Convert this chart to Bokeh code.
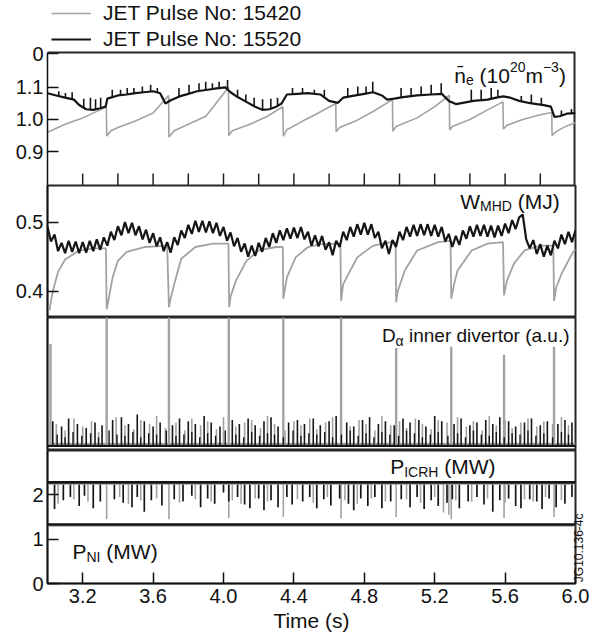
import math
import numpy as np
from bokeh.plotting import figure
from bokeh.models import (Range1d, FixedTicker, Legend, LegendItem, Label, PrintfTickFormatter,
                          Span, LinearAxis)
from bokeh.layouts import column
from bokeh.embed import file_html
from bokeh.resources import INLINE

# ------------------------------------------------------------------ data
x_ticks = [3.2, 3.6, 4.0, 4.4, 4.8, 5.2, 5.6, 6.0]
x_minor_ticks = [3.2, 3.4, 3.6, 3.8, 4.0, 4.2, 4.4, 4.6, 4.8, 5.0, 5.2, 5.4, 5.6, 5.8]
ne_ticks = [0.9, 1.0, 1.1, 1.205]
ne_tick_labels = ["0.9", "1.0", "1.1", "0"]
w_ticks = [0.4, 0.5]
w_tick_labels = ["0.4", "0.5"]
p_ticks = [0, 1, 2]
p_tick_labels = ["0", "1", "2"]

legend_labels = ["JET Pulse No: 15420", "JET Pulse No: 15520"]
figure_code = "JG10.136-4c"

# line-averaged density, pulse 15420 (grey)
ne_grey_t = [3.00, 3.10, 3.20, 3.30, 3.334, 3.337, 3.36, 3.40, 3.50, 3.60,
             3.688, 3.690, 3.72, 3.80, 3.90, 3.95, 4.028, 4.030, 4.05, 4.15,
             4.25, 4.337, 4.340, 4.36, 4.45, 4.52, 4.638, 4.640, 4.66, 4.75,
             4.85, 4.960, 4.962, 4.98, 5.10, 5.20, 5.283, 5.285, 5.30, 5.40,
             5.50, 5.588, 5.590, 5.61, 5.70, 5.80, 5.865, 5.867, 5.89, 5.95, 6.00]
ne_grey_v = [0.960, 0.985, 1.005, 1.030, 1.040, 0.948, 0.965, 0.975, 0.995, 1.020,
             1.075, 0.945, 0.965, 0.985, 1.010, 1.045, 1.100, 0.950, 0.965, 0.985,
             1.010, 1.040, 0.948, 0.968, 0.995, 1.015, 1.050, 0.962, 0.975, 0.995,
             1.025, 1.062, 0.963, 0.978, 1.005, 1.040, 1.075, 0.967, 0.978, 1.000,
             1.030, 1.055, 0.970, 0.982, 1.000, 1.015, 1.022, 0.950, 0.962, 0.980, 0.990]

# line-averaged density, pulse 15520 (black)
ne_black_t = [3.00, 3.05, 3.10, 3.15, 3.18, 3.22, 3.26, 3.30, 3.33, 3.34,
              3.40, 3.45, 3.50, 3.55, 3.60, 3.64, 3.67, 3.70, 3.75, 3.80,
              3.85, 3.90, 3.95, 4.01, 4.04, 4.08, 4.13, 4.18, 4.22, 4.26,
              4.30, 4.33, 4.36, 4.42, 4.48, 4.55, 4.60, 4.65, 4.68, 4.75,
              4.80, 4.85, 4.90, 4.93, 4.97, 5.02, 5.10, 5.18, 5.24, 5.28,
              5.32, 5.36, 5.42, 5.50, 5.55, 5.59, 5.63, 5.68, 5.75, 5.82,
              5.86, 5.88, 5.91, 5.95, 6.00]
ne_black_v = [1.082, 1.075, 1.068, 1.062, 1.045, 1.032, 1.030, 1.035, 1.040, 1.065,
              1.075, 1.078, 1.082, 1.085, 1.088, 1.082, 1.050, 1.060, 1.072, 1.080,
              1.088, 1.092, 1.096, 1.100, 1.085, 1.070, 1.055, 1.040, 1.030, 1.032,
              1.040, 1.050, 1.078, 1.080, 1.082, 1.078, 1.058, 1.052, 1.068, 1.075,
              1.080, 1.085, 1.075, 1.062, 1.065, 1.070, 1.075, 1.078, 1.080, 1.058,
              1.048, 1.052, 1.058, 1.062, 1.068, 1.072, 1.068, 1.058, 1.050, 1.045,
              1.040, 1.008, 1.010, 1.018, 1.020]
ne_black_spike_t = [3.064, 3.102, 3.140, 3.206, 3.244, 3.273, 3.302, 3.368, 3.415, 3.453,
                    3.491, 3.539, 3.586, 3.624, 3.747, 3.804, 3.861, 3.899, 3.937, 3.975,
                    4.023, 4.080, 4.127, 4.174, 4.222, 4.269, 4.307, 4.392, 4.449, 4.516,
                    4.573, 4.706, 4.763, 4.810, 4.848, 5.009, 5.066, 5.123, 5.180, 5.237,
                    5.408, 5.464, 5.521, 5.559, 5.692, 5.749, 5.806, 5.920, 5.977]
ne_black_spike_top = [1.088, 1.083, 1.085, 1.065, 1.068, 1.063, 1.068, 1.093, 1.093, 1.098,
                      1.098, 1.103, 1.108, 1.098, 1.098, 1.108, 1.113, 1.118, 1.113, 1.118,
                      1.123, 1.093, 1.078, 1.068, 1.063, 1.065, 1.068, 1.098, 1.098, 1.093,
                      1.093, 1.098, 1.103, 1.103, 1.118, 1.098, 1.098, 1.103, 1.108, 1.113,
                      1.093, 1.093, 1.098, 1.093, 1.073, 1.078, 1.068, 1.028, 1.033]

# stored energy, pulse 15420 (grey)
w_grey_t = [3.00, 3.01, 3.03, 3.06, 3.10, 3.18, 3.27, 3.332, 3.336, 3.345,
            3.37, 3.40, 3.45, 3.55, 3.68, 3.690, 3.70, 3.73, 3.76, 3.84,
            3.94, 4.028, 4.032, 4.04, 4.07, 4.13, 4.20, 4.30, 4.337, 4.340,
            4.36, 4.41, 4.48, 4.55, 4.664, 4.668, 4.68, 4.71, 4.76, 4.85,
            4.95, 4.978, 4.981, 4.99, 5.03, 5.10, 5.22, 5.29, 5.294, 5.31,
            5.33, 5.41, 5.50, 5.588, 5.594, 5.61, 5.65, 5.71, 5.80, 5.874,
            5.878, 5.89, 5.92, 5.98, 6.00]
w_grey_v = [0.380, 0.372, 0.400, 0.428, 0.446, 0.459, 0.462, 0.462, 0.374, 0.385,
            0.420, 0.444, 0.457, 0.464, 0.466, 0.377, 0.390, 0.420, 0.447, 0.464,
            0.469, 0.469, 0.377, 0.392, 0.415, 0.444, 0.459, 0.464, 0.464, 0.389,
            0.420, 0.449, 0.464, 0.468, 0.469, 0.386, 0.410, 0.425, 0.449, 0.466,
            0.471, 0.471, 0.384, 0.400, 0.430, 0.459, 0.471, 0.473, 0.389, 0.410,
            0.430, 0.459, 0.469, 0.471, 0.394, 0.415, 0.440, 0.459, 0.466, 0.466,
            0.386, 0.405, 0.425, 0.454, 0.461]

# stored energy, pulse 15520 (black), sampled every 0.02 s from 3.00 s
w_black_start = 3.00
w_black_step = 0.02
w_black_v = [0.493, 0.472, 0.482, 0.458, 0.470, 0.455, 0.473, 0.457, 0.472, 0.455,
             0.471, 0.456, 0.473, 0.458, 0.475, 0.460, 0.478, 0.466, 0.486, 0.474,
             0.494, 0.481, 0.500, 0.484, 0.499, 0.481, 0.494, 0.475, 0.489, 0.470,
             0.484, 0.465, 0.478, 0.458, 0.471, 0.456, 0.478, 0.467, 0.488, 0.477,
             0.496, 0.483, 0.502, 0.486, 0.502, 0.485, 0.501, 0.484, 0.499, 0.480,
             0.493, 0.473, 0.485, 0.465, 0.477, 0.457, 0.469, 0.450, 0.466, 0.451,
             0.470, 0.457, 0.477, 0.464, 0.484, 0.470, 0.488, 0.474, 0.491, 0.476,
             0.492, 0.477, 0.493, 0.475, 0.486, 0.466, 0.481, 0.465, 0.480, 0.460,
             0.471, 0.452, 0.473, 0.464, 0.486, 0.474, 0.493, 0.479, 0.497, 0.482,
             0.499, 0.482, 0.497, 0.477, 0.486, 0.462, 0.473, 0.454, 0.474, 0.464,
             0.486, 0.474, 0.493, 0.479, 0.496, 0.480, 0.497, 0.481, 0.497, 0.480,
             0.496, 0.479, 0.493, 0.472, 0.483, 0.464, 0.480, 0.467, 0.488, 0.476,
             0.494, 0.479, 0.496, 0.480, 0.496, 0.479, 0.495, 0.478, 0.495, 0.480,
             0.498, 0.484, 0.503, 0.490, 0.507, 0.511, 0.475, 0.462, 0.474, 0.454,
             0.468, 0.450, 0.466, 0.452, 0.473, 0.462, 0.482, 0.468, 0.486, 0.471,
             0.488]

# D-alpha inner divertor (a.u.)
da_base_t = [3.0, 6.0]
da_grey_base_v = [0.050, 0.050]
da_black_base_v = [0.035, 0.035]
da_elm_t = [3.017, 3.336, 3.690, 4.030, 4.340, 4.668, 4.981, 5.294, 5.594, 5.878]
da_elm_h = [0.80, 1.02, 1.02, 1.02, 1.02, 1.02, 0.77, 0.78, 0.72, 0.78]
da_grey_t = [3.05, 3.10, 3.15, 3.20, 3.25, 3.29, 3.39, 3.44, 3.49, 3.53,
             3.58, 3.62, 3.67, 3.73, 3.78, 3.82, 3.87, 3.91, 3.96, 4.00,
             4.07, 4.12, 4.16, 4.21, 4.25, 4.29, 4.35, 4.40, 4.44, 4.49,
             4.53, 4.58, 4.62, 4.72, 4.77, 4.81, 4.86, 4.90, 4.95, 5.00,
             5.04, 5.09, 5.13, 5.18, 5.22, 5.27, 5.33, 5.38, 5.42, 5.47,
             5.51, 5.55, 5.60, 5.64, 5.69, 5.73, 5.78, 5.82, 5.87, 5.92, 5.96]
da_grey_h = [0.20, 0.15, 0.24, 0.18, 0.22, 0.14, 0.25, 0.19, 0.16, 0.23,
             0.20, 0.26, 0.17, 0.21, 0.15, 0.24, 0.19, 0.22, 0.16, 0.25,
             0.18, 0.21, 0.23, 0.17, 0.26, 0.20, 0.15, 0.22, 0.19, 0.24,
             0.16, 0.21, 0.25, 0.18, 0.23, 0.20, 0.15, 0.26, 0.19, 0.22,
             0.17, 0.24, 0.20, 0.16, 0.23, 0.21, 0.25, 0.18, 0.22, 0.15,
             0.26, 0.19, 0.23, 0.17, 0.21, 0.24, 0.18, 0.22, 0.20, 0.25, 0.19]
da_black_t = [3.03, 3.08, 3.12, 3.17, 3.22, 3.27, 3.31, 3.37, 3.42, 3.46,
              3.51, 3.55, 3.60, 3.64, 3.71, 3.75, 3.80, 3.84, 3.89, 3.93,
              3.98, 4.05, 4.09, 4.14, 4.18, 4.23, 4.27, 4.31, 4.37, 4.42,
              4.46, 4.51, 4.55, 4.60, 4.64, 4.70, 4.74, 4.79, 4.83, 4.88,
              4.92, 4.97, 5.02, 5.06, 5.11, 5.15, 5.20, 5.24, 5.31, 5.35,
              5.40, 5.44, 5.49, 5.53, 5.57, 5.62, 5.66, 5.71, 5.75, 5.80,
              5.84, 5.90, 5.94, 5.98]
da_black_h = [0.22, 0.18, 0.24, 0.20, 0.17, 0.21, 0.19, 0.23, 0.25, 0.20,
              0.27, 0.22, 0.18, 0.21, 0.19, 0.24, 0.22, 0.20, 0.26, 0.21,
              0.18, 0.23, 0.20, 0.24, 0.19, 0.22, 0.25, 0.18, 0.21, 0.23,
              0.20, 0.24, 0.19, 0.22, 0.26, 0.21, 0.18, 0.23, 0.25, 0.20,
              0.22, 0.19, 0.24, 0.21, 0.23, 0.18, 0.26, 0.22, 0.20, 0.24,
              0.19, 0.21, 0.23, 0.20, 0.25, 0.22, 0.18, 0.21, 0.24, 0.19,
              0.22, 0.20, 0.23, 0.21]
da_black_minor_t = [3.055, 3.100, 3.145, 3.195, 3.245, 3.290, 3.350, 3.395, 3.440, 3.485,
                    3.530, 3.575, 3.620, 3.675, 3.730, 3.775, 3.820, 3.865, 3.910, 3.955,
                    4.010, 4.070, 4.115, 4.160, 4.205, 4.250, 4.290, 4.340, 4.395, 4.440,
                    4.485, 4.530, 4.575, 4.620, 4.670, 4.720, 4.765, 4.810, 4.855, 4.900,
                    4.945, 4.995, 5.040, 5.085, 5.130, 5.175, 5.220, 5.275, 5.330, 5.375,
                    5.420, 5.465, 5.510, 5.550, 5.595, 5.640, 5.685, 5.730, 5.775, 5.820,
                    5.870, 5.920, 5.960]
da_black_minor_h = [0.12, 0.10, 0.14, 0.11, 0.13, 0.10, 0.15, 0.12, 0.11, 0.14,
                    0.10, 0.13, 0.12, 0.15, 0.11, 0.12, 0.14, 0.10, 0.13, 0.11,
                    0.15, 0.12, 0.10, 0.14, 0.11, 0.13, 0.12, 0.10, 0.15, 0.11,
                    0.13, 0.12, 0.14, 0.10, 0.12, 0.15, 0.11, 0.13, 0.10, 0.14,
                    0.12, 0.11, 0.15, 0.13, 0.10, 0.12, 0.14, 0.11, 0.13, 0.10,
                    0.15, 0.12, 0.11, 0.14, 0.10, 0.13, 0.12, 0.15, 0.11, 0.13,
                    0.10, 0.14, 0.12]

# heating powers (MW)
p_base_t = [3.0, 6.0]
icrh_black_v = [2.28, 2.28]
icrh_grey_v = [2.25, 2.25]
nbi_black_v = [1.33, 1.33]
nbi_grey_v = [1.30, 1.30]
icrh_black_dip_t = [3.04, 3.09, 3.13, 3.18, 3.21, 3.26, 3.30, 3.38, 3.43, 3.48,
                    3.51, 3.55, 3.59, 3.65, 3.72, 3.77, 3.82, 3.87, 3.91, 3.95,
                    4.00, 4.03, 4.08, 4.12, 4.15, 4.20, 4.23, 4.27, 4.31, 4.36,
                    4.39, 4.45, 4.49, 4.53, 4.57, 4.61, 4.66, 4.71, 4.74, 4.78,
                    4.82, 4.86, 4.90, 4.95, 5.01, 5.06, 5.10, 5.14, 5.18, 5.22,
                    5.27, 5.30, 5.34, 5.39, 5.44, 5.48, 5.53, 5.57, 5.62, 5.66,
                    5.69, 5.74, 5.78, 5.81, 5.85, 5.89, 5.94, 5.98]
icrh_black_dip_v = [1.68, 1.88, 1.95, 1.75, 1.98, 1.70, 1.85, 1.90, 1.82, 1.72,
                    1.95, 1.62, 1.88, 1.76, 1.90, 1.85, 1.98, 1.72, 1.92, 1.80,
                    2.05, 1.85, 1.95, 1.78, 1.70, 1.92, 1.65, 1.88, 1.72, 1.95,
                    1.78, 1.85, 1.95, 1.70, 1.90, 1.76, 1.92, 1.80, 1.65, 1.92,
                    1.75, 1.95, 1.70, 1.85, 1.90, 1.72, 1.95, 1.68, 1.88, 1.75,
                    1.82, 1.90, 1.70, 1.85, 1.95, 1.78, 1.62, 1.88, 1.92, 1.75,
                    1.70, 1.90, 1.85, 1.68, 1.92, 1.72, 1.80, 1.95]
icrh_grey_dip_t = [3.06, 3.15, 3.23, 3.336, 3.41, 3.46, 3.53, 3.62, 3.69, 3.75,
                   3.84, 3.93, 4.03, 4.05, 4.10, 4.18, 4.25, 4.34, 4.42, 4.51,
                   4.59, 4.668, 4.69, 4.76, 4.84, 4.92, 4.981, 5.04, 5.12, 5.20,
                   5.25, 5.28, 5.294, 5.32, 5.41, 5.50, 5.594, 5.60, 5.71, 5.76,
                   5.83, 5.878, 5.92]
icrh_grey_dip_v = [1.80, 1.90, 1.85, 1.45, 1.95, 1.80, 1.88, 1.92, 1.45, 1.82,
                   1.90, 1.85, 1.48, 1.88, 1.80, 1.92, 1.85, 1.50, 1.90, 1.82,
                   1.95, 1.47, 1.88, 1.80, 1.92, 1.85, 1.50, 1.90, 1.82, 1.95,
                   1.60, 1.55, 1.45, 1.88, 1.85, 1.92, 1.48, 1.82, 1.90, 1.85,
                   1.95, 1.50, 1.88]

# ------------------------------------------------------------------ style
FONT = "Liberation Sans"
GREY = "#a2a2a2"
BLACK = "#151515"
TXT = "#111111"
FRAME = "#262626"

ARIAL = {" ": 278, "(": 333, ")": 333, ".": 278, "-": 333, "\u2212": 584, ":": 278,
         "0": 556, "1": 556, "2": 556, "3": 556, "4": 556, "5": 556, "6": 556,
         "7": 556, "8": 556, "9": 556, "\u0304": 0, "\u03b1": 578,
         "C": 722, "D": 722, "H": 722, "I": 278, "J": 500, "M": 833, "N": 722,
         "P": 667, "R": 722, "W": 944,
         "a": 556, "d": 556, "e": 556, "i": 222, "m": 833, "n": 556, "o": 556,
         "r": 333, "t": 278, "u": 556, "v": 500}

LIFT = 7  # px: lift of the composed labels


def text_width(s, size):
    return sum(ARIAL.get(ch, 556) for ch in s) / 1000.0 * size


def rich_label(fig, x, y, parts):
    dx = 0.0
    for txt, size, dy in parts:
        lead = len(txt) - len(txt.lstrip(" "))
        dx += text_width(" " * lead, size)
        body = txt.lstrip(" ")
        fig.add_layout(Label(x=x, y=y, x_offset=dx, y_offset=dy + LIFT, text=body,
                             text_font=FONT, text_font_size=f"{size}px",
                             text_align="left", text_baseline="alphabetic",
                             text_color=TXT))
        dx += text_width(body, size)


x_range = Range1d(3.0, 6.0)


def make_fig(height, yr, top, bottom, xloc, ticks, labels, fmt):
    p = figure(width=598, height=height, x_range=x_range, y_range=Range1d(*yr),
               output_backend="svg", toolbar_location=None,
               min_border_left=47, min_border_right=23,
               min_border_top=top, min_border_bottom=bottom,
               x_axis_location=xloc, y_axis_location="left")
    p.xgrid.visible = False
    p.ygrid.visible = False
    p.outline_line_color = FRAME
    p.outline_line_width = 2
    p.background_fill_color = "white"
    p.border_fill_color = "white"
    ax = p.yaxis[0]
    ax.ticker = FixedTicker(ticks=ticks)
    ax.formatter = PrintfTickFormatter(format=fmt)
    ax.major_label_overrides = {t: l for t, l in zip(ticks, labels)}
    ax.axis_line_color = "#111111"
    ax.axis_line_width = 1.5
    ax.major_tick_in = 11
    ax.major_tick_out = 0
    ax.minor_tick_in = 0
    ax.minor_tick_out = 0
    ax.major_tick_line_color = "#111111"
    ax.major_tick_line_width = 1.5
    ax.major_label_text_font = FONT
    ax.major_label_text_font_size = "20px"
    ax.major_label_text_color = TXT
    ax.major_label_standoff = 4
    return p


# ---------------- panel 1 : density (frame also hosts the legend strip above the box)
ne_range = (0.794, 1.209)
ne_top = ne_range[1] + 52.0 * (ne_range[1] - ne_range[0]) / 133.0
p1 = make_fig(185, (ne_range[0], ne_top), 0, 0, None, ne_ticks, ne_tick_labels, "%.1f")
p1.outline_line_alpha = 0
p1.yaxis[0].bounds = ne_range
p1.add_layout(Span(location=ne_range[1], dimension="width", line_color=FRAME, line_width=2))
p1.add_layout(Span(location=ne_range[0], dimension="width", line_color=FRAME, line_width=2))
p1.segment(x0=[x_range.end], y0=[ne_range[0]], x1=[x_range.end], y1=[ne_range[1]],
           line_color=FRAME, line_width=4)

r_grey = p1.line(ne_grey_t, ne_grey_v, line_color=GREY, line_width=1.6)
r_black = p1.line(ne_black_t, ne_black_v, line_color=BLACK, line_width=2.2)
spike_base = np.interp(ne_black_spike_t, ne_black_t, ne_black_v)
p1.segment(x0=ne_black_spike_t, y0=spike_base, x1=ne_black_spike_t, y1=ne_black_spike_top,
           line_color=BLACK, line_width=1.6)
# inward time ticks along the bottom edge of the density box
tick_len = 12.0 / 133.0 * (ne_range[1] - ne_range[0])
p1.segment(x0=x_minor_ticks, y0=[ne_range[0]] * len(x_minor_ticks),
           x1=x_minor_ticks, y1=[ne_range[0] + tick_len] * len(x_minor_ticks),
           line_color="#222222", line_width=1.5)

legend = Legend(items=[LegendItem(label=legend_labels[0], renderers=[r_grey]),
                       LegendItem(label=legend_labels[1], renderers=[r_black])],
                location=(4, 134), orientation="vertical", margin=0, padding=0, spacing=2,
                glyph_width=40, glyph_height=20, label_height=20, label_standoff=12,
                label_text_font=FONT, label_text_font_size="21px", label_text_color=TXT,
                background_fill_alpha=0, border_line_alpha=0)
p1.add_layout(legend)

rich_label(p1, 5.311, 1.116, [("n\u0304", 21, 0), ("e", 14, -5), (" (10", 21, 0),
                              ("20", 14, 8), ("m", 21, 0), ("\u22123", 14, 8), (")", 21, 0)])

# ---------------- panel 2 : stored energy
p2 = make_fig(132, (0.362, 0.553), 0, 0, None, w_ticks, w_tick_labels, "%.1f")
w_black_t = [round(w_black_start + w_black_step * i, 3) for i in range(len(w_black_v))]
p2.line(w_grey_t, w_grey_v, line_color=GREY, line_width=1.8)
p2.line(w_black_t, w_black_v, line_color=BLACK, line_width=2.2)
rich_label(p2, 5.345, 0.520, [("W", 21, 0), ("MHD", 14, -5), (" (MJ)", 21, 0)])

# ---------------- panel 3 : D-alpha
p3 = make_fig(133, (0.0, 1.0), 0, 0, None, [], [], "%.1f")
p3.line(da_base_t, da_grey_base_v, line_color=GREY, line_width=2)
p3.segment(x0=da_elm_t, y0=[da_grey_base_v[0]] * len(da_elm_t), x1=da_elm_t, y1=da_elm_h,
           line_color=GREY, line_width=2.4)
p3.segment(x0=da_grey_t, y0=[da_grey_base_v[0]] * len(da_grey_t), x1=da_grey_t, y1=da_grey_h,
           line_color=GREY, line_width=1.6)
p3.segment(x0=da_black_minor_t, y0=[da_black_base_v[0]] * len(da_black_minor_t),
           x1=da_black_minor_t, y1=da_black_minor_h, line_color=BLACK, line_width=1.4)
p3.segment(x0=da_black_t, y0=[da_black_base_v[0]] * len(da_black_t), x1=da_black_t, y1=da_black_h,
           line_color=BLACK, line_width=1.6)
p3.line(da_base_t, da_black_base_v, line_color=BLACK, line_width=2.2)
rich_label(p3, 4.900, 0.812, [("D", 19, 0), ("\u03b1", 14, -5), (" inner divertor (a.u.)", 19, 0)])

# ---------------- panel 4 : heating powers
p4 = make_fig(187, (0.0, 3.0), 0, 54, "below", p_ticks, p_tick_labels, "%d")
xb = p4.xaxis[0]
xb.ticker = FixedTicker(ticks=x_ticks)
xb.formatter = PrintfTickFormatter(format="%.1f")
xb.axis_line_color = "#111111"
xb.axis_line_width = 1.5
xb.major_tick_in = 11
xb.major_tick_out = 0
xb.minor_tick_in = 0
xb.minor_tick_out = 0
xb.major_tick_line_width = 1.5
xb.major_tick_line_color = "#111111"
xb.major_label_text_font = FONT
xb.major_label_text_font_size = "20px"
xb.major_label_text_color = TXT
xb.major_label_standoff = 5
xb.axis_label = "Time (s)"
xb.axis_label_text_font = FONT
xb.axis_label_text_font_size = "21px"
xb.axis_label_text_font_style = "normal"
xb.axis_label_text_color = TXT
xb.axis_label_standoff = 3

p4.segment(x0=icrh_grey_dip_t, y0=[icrh_grey_v[0]] * len(icrh_grey_dip_t),
           x1=icrh_grey_dip_t, y1=icrh_grey_dip_v, line_color=GREY, line_width=1.6)
p4.segment(x0=icrh_black_dip_t, y0=[icrh_black_v[0]] * len(icrh_black_dip_t),
           x1=icrh_black_dip_t, y1=icrh_black_dip_v, line_color=BLACK, line_width=1.7)
p4.line(p_base_t, icrh_grey_v, line_color=GREY, line_width=2)
p4.line(p_base_t, icrh_black_v, line_color=BLACK, line_width=2.6)
p4.line(p_base_t, nbi_grey_v, line_color=GREY, line_width=2)
p4.line(p_base_t, nbi_black_v, line_color=BLACK, line_width=2.6)

rich_label(p4, 4.947, 2.48, [("P", 21, 0), ("ICRH", 14, -5), (" (MW)", 21, 0)])
rich_label(p4, 3.142, 0.557, [("P", 21, 0), ("NI", 14, -5), (" (MW)", 21, 0)])

# figure reference code, written upward in the right margin (as a rotated tick label)
code_pos = 0.03
rax = LinearAxis(ticker=FixedTicker(ticks=[code_pos]),
                 major_label_overrides={code_pos: figure_code})
rax.axis_line_alpha = 0
rax.major_tick_in = 0
rax.major_tick_out = 0
rax.minor_tick_in = 0
rax.minor_tick_out = 0
rax.major_label_orientation = math.pi / 2
rax.major_label_standoff = 4
rax.major_label_text_font = FONT
rax.major_label_text_font_size = "12px"
rax.major_label_text_color = TXT
p4.add_layout(rax, "right")

layout = column(p1, p2, p3, p4, spacing=0)
open("out.html", "w").write(file_html(layout, INLINE))
